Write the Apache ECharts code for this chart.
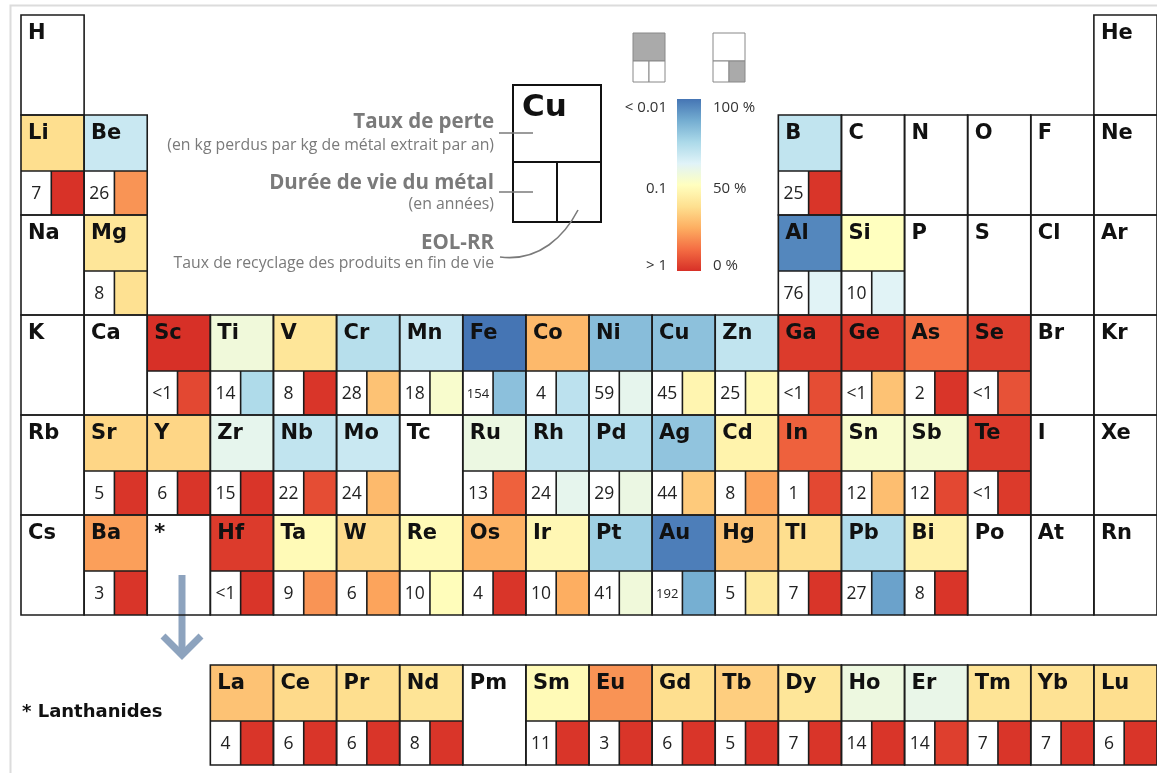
<!DOCTYPE html>
<html>
<head>
<meta charset="utf-8">
<script src="https://cdn.jsdelivr.net/npm/echarts@6/dist/echarts.min.js"></script>
<style>
  html, body { margin: 0; padding: 0; background: #fff; }
  #chart { width: 1157px; height: 773px; }
</style>
</head>
<body>
<div id="chart"></div>
<script>
// Periodic table layout (one entry per group, '' = empty slot)
const tableRows = [
  ['H','','','','','','','','','','','','','','','','','He'],
  ['Li','Be','','','','','','','','','','','B','C','N','O','F','Ne'],
  ['Na','Mg','','','','','','','','','','','Al','Si','P','S','Cl','Ar'],
  ['K','Ca','Sc','Ti','V','Cr','Mn','Fe','Co','Ni','Cu','Zn','Ga','Ge','As','Se','Br','Kr'],
  ['Rb','Sr','Y','Zr','Nb','Mo','Tc','Ru','Rh','Pd','Ag','Cd','In','Sn','Sb','Te','I','Xe'],
  ['Cs','Ba','*','Hf','Ta','W','Re','Os','Ir','Pt','Au','Hg','Tl','Pb','Bi','Po','At','Rn']
];
const lanthanides = ['La','Ce','Pr','Nd','Pm','Sm','Eu','Gd','Tb','Dy','Ho','Er','Tm','Yb','Lu'];

// Metals with data
const dataSymbols = ['Li','Be','Mg','B','Al','Si',
  'Sc','Ti','V','Cr','Mn','Fe','Co','Ni','Cu','Zn','Ga','Ge','As','Se',
  'Sr','Y','Zr','Nb','Mo','Ru','Rh','Pd','Ag','Cd','In','Sn','Sb','Te',
  'Ba','Hf','Ta','W','Re','Os','Ir','Pt','Au','Hg','Tl','Pb','Bi',
  'La','Ce','Pr','Nd','Sm','Eu','Gd','Tb','Dy','Ho','Er','Tm','Yb','Lu'];

// Loss rate (kg lost per kg of metal extracted per year)
const lossRate = [0.18, 0.044, 0.16, 0.04, 0.012, 0.1,
  1, 0.076, 0.16, 0.036, 0.044, 0.01, 0.28, 0.022, 0.023, 0.04, 0.9, 0.9, 0.55, 0.87,
  0.2, 0.2, 0.063, 0.04, 0.044, 0.07, 0.04, 0.034, 0.024, 0.126, 0.63, 0.087, 0.083, 0.9,
  0.36, 0.9, 0.11, 0.19, 0.11, 0.3, 0.115, 0.028, 0.011, 0.25, 0.18, 0.034, 0.13,
  0.25, 0.19, 0.18, 0.165, 0.11, 0.4, 0.18, 0.22, 0.16, 0.072, 0.066, 0.165, 0.17, 0.18];

// Metal lifetime (years)
const lifetime = ['7','26','8','25','76','10',
  '<1','14','8','28','18','154','4','59','45','25','<1','<1','2','<1',
  '5','6','15','22','24','13','24','29','44','8','1','12','12','<1',
  '3','<1','9','6','10','4','10','41','192','5','7','27','8',
  '4','6','6','8','11','3','6','5','7','14','14','7','7','6'];

// End-of-life recycling rate (%)
const eolRR = [0.5, 20, 38, 1, 62, 62,
  5, 74, 1, 30, 53, 82, 71, 60, 46, 47, 6, 30, 1, 7,
  1, 1, 1, 6, 28, 10, 60, 58, 32, 23, 5, 29, 5, 2,
  1, 1, 20, 23, 49, 1, 25, 56, 87, 41, 1, 90, 1,
  1, 1, 1, 1, 1, 1, 1, 1, 1, 1, 3, 1, 1, 1];

const RDYLBU = ['#d73027','#f46d43','#fdae61','#fee090','#ffffbf','#e0f3f8','#abd9e9','#74add1','#4575b4'];
const TOP = 0.56;     // share of a cell used by the loss-rate block
const SPLIT = 0.48;   // width share of the lifetime box
const LANTH_ROW = 6.5;

// Cell placement (column, row in table units)
const cells = [];
tableRows.forEach((row, r) => row.forEach((sym, c) => { if (sym) cells.push({ sym, col: c, row: r }); }));
lanthanides.forEach((sym, i) => cells.push({ sym, col: 3 + i, row: LANTH_ROW }));
const cellOf = sym => cells.find(c => c.sym === sym);

const clampLog = v => Math.max(-2, Math.min(0, Math.log10(v)));
const lossData = dataSymbols.map((s, i) => { const c = cellOf(s); return [c.col, c.row, clampLog(lossRate[i])]; });
const eolData = dataSymbols.map((s, i) => { const c = cellOf(s); return [c.col, c.row, eolRR[i]]; });
const frameData = cells.map(c => [c.col, c.row]);

function box(api, col, row) {
  const p0 = api.coord([col, row]);
  const p1 = api.coord([col + 1, row + 1]);
  return { x: p0[0], y: p0[1], w: p1[0] - p0[0], h: p1[1] - p0[1] };
}

const LINE = '#1c1c1c';
const SYM_FONT = 'bold 21px "DejaVu Sans"';
const GREY = '#7a7a7a';
const TITLE_FONT = 'bold 20.5px "Open Sans"';
const SUB_FONT = '15.8px "Open Sans"';

const chart = echarts.init(document.getElementById('chart'), null, { renderer: 'canvas' });

chart.setOption({
  animation: false,
  backgroundColor: '#fff',
  grid: { left: 21, top: 15, width: 1138.5, height: 750 },
  xAxis: { type: 'value', min: 0, max: 18, show: false },
  yAxis: { type: 'value', min: 0, max: 7.5, inverse: true, show: false },
  visualMap: [
    { type: 'continuous', show: false, seriesIndex: 0, dimension: 2, min: -2, max: 0,
      inRange: { color: RDYLBU.slice().reverse() } },
    { type: 'continuous', show: false, seriesIndex: 1, dimension: 2, min: 0, max: 100,
      inRange: { color: RDYLBU } }
  ],
  series: [
    {
      type: 'custom', name: 'Taux de perte', data: lossData, encode: { x: 0, y: 1 }, clip: false,
      renderItem(params, api) {
        const b = box(api, api.value(0), api.value(1));
        return { type: 'rect', shape: { x: b.x, y: b.y, width: b.w, height: b.h * TOP },
          style: { fill: api.visual('color') } };
      }
    },
    {
      type: 'custom', name: 'EOL-RR', data: eolData, encode: { x: 0, y: 1 }, clip: false,
      renderItem(params, api) {
        const b = box(api, api.value(0), api.value(1));
        return { type: 'rect',
          shape: { x: b.x + b.w * SPLIT, y: b.y + b.h * TOP, width: b.w * (1 - SPLIT), height: b.h * (1 - TOP) },
          style: { fill: api.visual('color') } };
      }
    },
    {
      type: 'custom', name: 'cells', data: frameData, encode: { x: 0, y: 1 }, clip: false, z: 5,
      renderItem(params, api) {
        const cell = cells[params.dataIndex];
        const b = box(api, api.value(0), api.value(1));
        const di = dataSymbols.indexOf(cell.sym);
        const children = [
          { type: 'rect', shape: { x: b.x, y: b.y, width: b.w, height: b.h },
            style: { fill: null, stroke: LINE, lineWidth: 1.6 } },
          { type: 'text', style: { x: b.x + 7, y: b.y + 19, text: cell.sym, font: SYM_FONT,
            fill: '#111', verticalAlign: 'middle', align: 'left' } }
        ];
        if (di >= 0) {
          const yMid = b.y + b.h * TOP;
          const xMid = b.x + b.w * SPLIT;
          const life = lifetime[di];
          children.push(
            { type: 'line', shape: { x1: b.x, y1: yMid, x2: b.x + b.w, y2: yMid },
              style: { stroke: LINE, lineWidth: 1.6 } },
            { type: 'line', shape: { x1: xMid, y1: yMid, x2: xMid, y2: b.y + b.h },
              style: { stroke: LINE, lineWidth: 1.6 } },
            { type: 'text', style: { x: b.x + b.w * SPLIT / 2, y: yMid + b.h * (1 - TOP) / 2 + 1,
              text: life, fill: '#222', align: 'center', verticalAlign: 'middle',
              font: (life.length > 2 ? '13px' : '17.5px') + ' "Open Sans"' } }
          );
        }
        return { type: 'group', children };
      }
    }
  ],
  graphic: [
    // outer frame
    { type: 'rect', shape: { x: 10.5, y: 5.5, width: 1170, height: 820 },
      style: { fill: null, stroke: '#dcdcdc', lineWidth: 2 }, z: 0 },
    // arrow towards the lanthanides
    { type: 'polyline', shape: { points: [[182, 575], [182, 653]] },
      style: { stroke: '#8da3be', lineWidth: 7 } },
    { type: 'polyline', shape: { points: [[163, 636], [182, 655], [201, 636]] },
      style: { stroke: '#8da3be', lineWidth: 7, fill: null } },
    { type: 'text', style: { x: 22, y: 712, text: '* Lanthanides', font: 'bold 18px "DejaVu Sans"',
      fill: '#111', verticalAlign: 'middle' } },

    // example cell
    { type: 'rect', shape: { x: 513, y: 85, width: 88, height: 137 },
      style: { fill: '#fff', stroke: '#111', lineWidth: 2 } },
    { type: 'line', shape: { x1: 513, y1: 162, x2: 601, y2: 162 }, style: { stroke: '#111', lineWidth: 2 } },
    { type: 'line', shape: { x1: 557, y1: 162, x2: 557, y2: 222 }, style: { stroke: '#111', lineWidth: 2 } },
    { type: 'text', style: { x: 522, y: 108, text: 'Cu', font: 'bold 31px "DejaVu Sans"', fill: '#111',
      verticalAlign: 'middle' } },

    // legend labels and leaders
    { type: 'text', style: { x: 494, y: 122, text: 'Taux de perte', font: TITLE_FONT,
      fill: GREY, align: 'right', verticalAlign: 'middle' } },
    { type: 'text', style: { x: 494, y: 145, text: '(en kg perdus par kg de métal extrait par an)',
      font: SUB_FONT, fill: GREY, align: 'right', verticalAlign: 'middle' } },
    { type: 'line', shape: { x1: 499, y1: 133, x2: 533, y2: 133 }, style: { stroke: GREY, lineWidth: 1.6 } },
    { type: 'text', style: { x: 494, y: 183, text: 'Durée de vie du métal', font: TITLE_FONT,
      fill: GREY, align: 'right', verticalAlign: 'middle' } },
    { type: 'text', style: { x: 494, y: 204, text: '(en années)', font: SUB_FONT,
      fill: GREY, align: 'right', verticalAlign: 'middle' } },
    { type: 'line', shape: { x1: 499, y1: 192, x2: 533, y2: 192 }, style: { stroke: GREY, lineWidth: 1.6 } },
    { type: 'text', style: { x: 494, y: 243, text: 'EOL-RR', font: TITLE_FONT,
      fill: GREY, align: 'right', verticalAlign: 'middle' } },
    { type: 'text', style: { x: 494, y: 263, text: 'Taux de recyclage des produits en fin de vie',
      font: SUB_FONT, fill: GREY, align: 'right', verticalAlign: 'middle' } },
    { type: 'bezierCurve', shape: { x1: 500, y1: 257, cpx1: 540, cpy1: 262, cpx2: 565, cpy2: 235, x2: 578, y2: 210 },
      style: { stroke: GREY, lineWidth: 1.6, fill: null } },

    // key icons
    { type: 'rect', shape: { x: 633, y: 33, width: 32, height: 28 }, style: { fill: '#aaaaaa', stroke: '#888', lineWidth: 1 } },
    { type: 'rect', shape: { x: 633, y: 61, width: 16, height: 21 }, style: { fill: '#fff', stroke: '#888', lineWidth: 1 } },
    { type: 'rect', shape: { x: 649, y: 61, width: 16, height: 21 }, style: { fill: '#fff', stroke: '#888', lineWidth: 1 } },
    { type: 'rect', shape: { x: 713, y: 33, width: 32, height: 28 }, style: { fill: '#fff', stroke: '#888', lineWidth: 1 } },
    { type: 'rect', shape: { x: 713, y: 61, width: 16, height: 21 }, style: { fill: '#fff', stroke: '#888', lineWidth: 1 } },
    { type: 'rect', shape: { x: 729, y: 61, width: 16, height: 21 }, style: { fill: '#aaaaaa', stroke: '#888', lineWidth: 1 } },

    // colour bar
    { type: 'rect', shape: { x: 677, y: 99, width: 24, height: 172 },
      style: { fill: new echarts.graphic.LinearGradient(0, 0, 0, 1,
        RDYLBU.slice().reverse().map((c, i) => ({ offset: i / (RDYLBU.length - 1), color: c }))) } },
    { type: 'text', style: { x: 667, y: 108, text: '< 0.01', font: '15px "Open Sans"', fill: '#333', align: 'right', verticalAlign: 'middle' } },
    { type: 'text', style: { x: 667, y: 189, text: '0.1', font: '15px "Open Sans"', fill: '#333', align: 'right', verticalAlign: 'middle' } },
    { type: 'text', style: { x: 667, y: 266, text: '> 1', font: '15px "Open Sans"', fill: '#333', align: 'right', verticalAlign: 'middle' } },
    { type: 'text', style: { x: 713, y: 108, text: '100 %', font: '15px "Open Sans"', fill: '#333', verticalAlign: 'middle' } },
    { type: 'text', style: { x: 713, y: 189, text: '50 %', font: '15px "Open Sans"', fill: '#333', verticalAlign: 'middle' } },
    { type: 'text', style: { x: 713, y: 266, text: '0 %', font: '15px "Open Sans"', fill: '#333', verticalAlign: 'middle' } }
  ]
});
</script>
</body>
</html>
